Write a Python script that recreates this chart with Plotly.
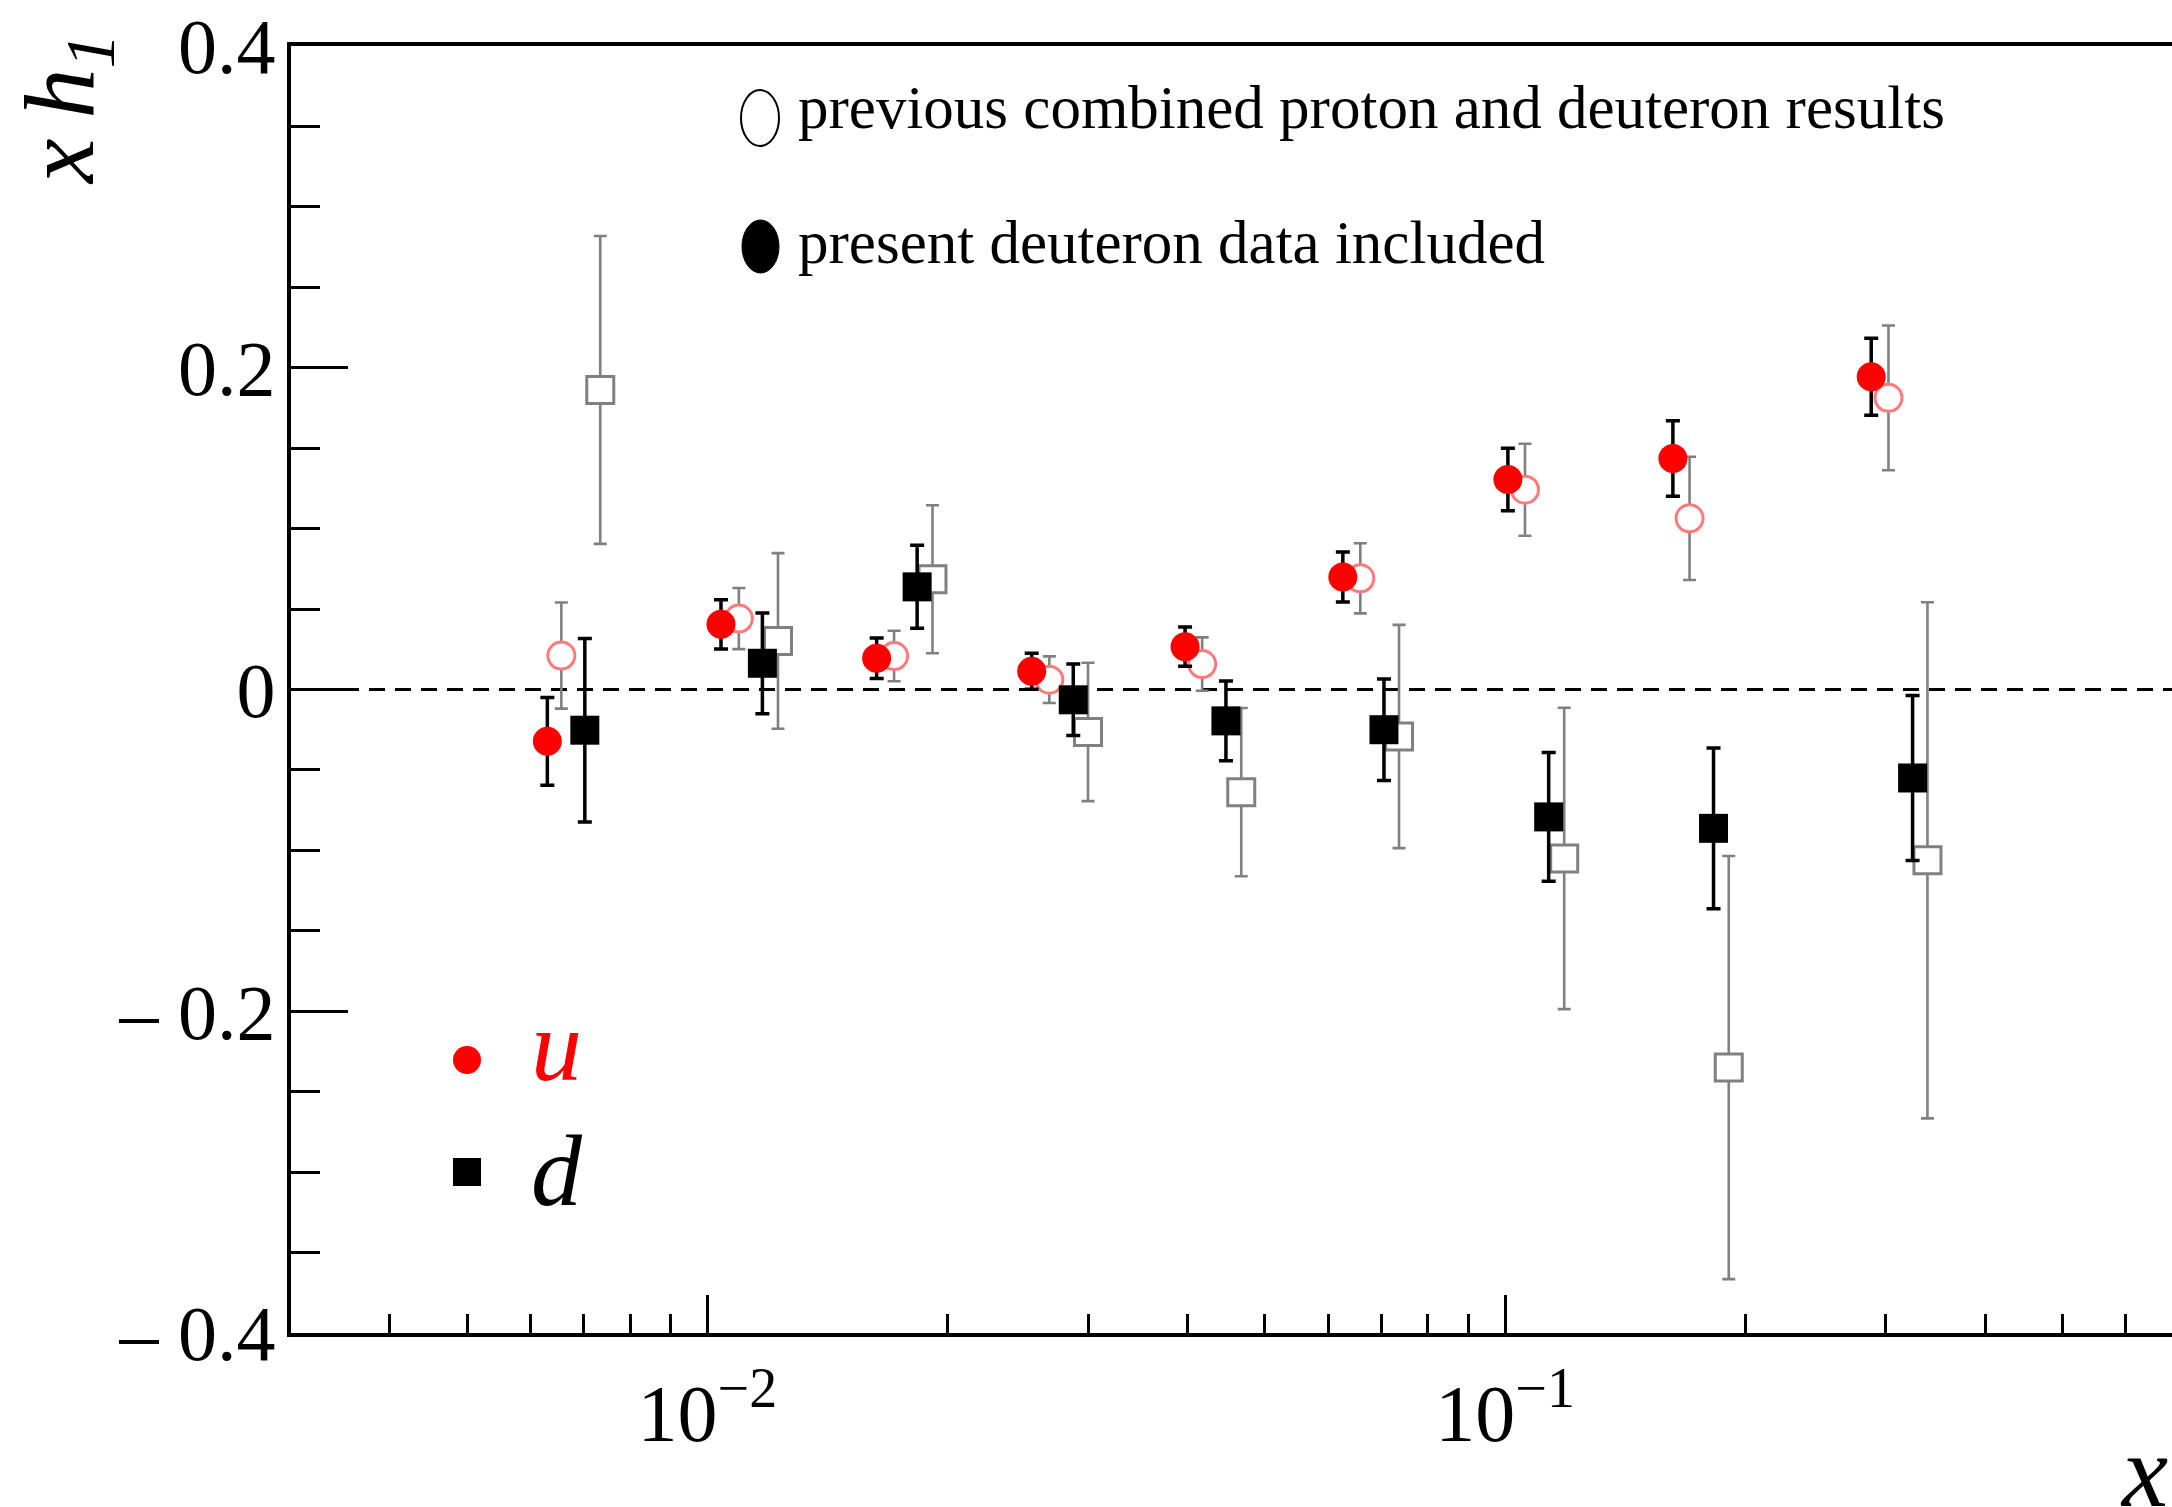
import plotly.graph_objects as go

# ---------------- data ----------------
# u quark, present deuteron data included (red filled circles)
x_u_new = [0.0063, 0.0104, 0.0163, 0.0255, 0.0397, 0.0626, 0.1008, 0.1623, 0.2877]
y_u_new = [-0.0322, 0.0405, 0.0194, 0.0113, 0.0266, 0.0699, 0.1305, 0.1436, 0.1944]
e_u_new = [0.0273, 0.0153, 0.0126, 0.0112, 0.0122, 0.0155, 0.0194, 0.0234, 0.0240]

# u quark, previous combined proton and deuteron results (open circles)
x_u_old = [0.00656, 0.01095, 0.01714, 0.02683, 0.04171, 0.06584, 0.1059, 0.1703, 0.3024]
y_u_old = [0.0211, 0.0441, 0.0208, 0.0061, 0.0158, 0.0691, 0.1242, 0.1064, 0.1813]
e_u_old = [0.0330, 0.0190, 0.0157, 0.0145, 0.0166, 0.0218, 0.0286, 0.0383, 0.0450]

# d quark, present deuteron data included (black filled squares)
x_d_new = [0.00702, 0.01172, 0.01832, 0.02875, 0.04467, 0.07049, 0.1134, 0.1825, 0.3242]
y_d_new = [-0.0253, 0.0163, 0.0638, -0.0064, -0.0195, -0.0250, -0.0792, -0.0863, -0.0550]
e_d_new = [0.0570, 0.0313, 0.0258, 0.0222, 0.0248, 0.0316, 0.0400, 0.0500, 0.0513]

# d quark, previous combined proton and deuteron results (open squares)
x_d_old = [0.00734, 0.01226, 0.01915, 0.03000, 0.04669, 0.07362, 0.1186, 0.1907, 0.3384]
y_d_old = [0.1862, 0.0302, 0.0685, -0.0264, -0.0638, -0.0292, -0.1050, -0.2350, -0.1062]
e_d_old = [0.0957, 0.0546, 0.0460, 0.0430, 0.0523, 0.0694, 0.0937, 0.1315, 0.1604]

# axis ticks
y_tickvals = [-0.4, -0.2, 0.0, 0.2, 0.4]
y_ticktext = ["\u2013 0.4", "\u2013 0.2", "0", "0.2", "0.4"]
x_tickvals = [0.01, 0.1]
x_ticktext = ["10<sup>\u22122</sup>", "10<sup>\u22121</sup>"]
x_minor = [0.004, 0.005, 0.006, 0.007, 0.008, 0.009,
           0.02, 0.03, 0.04, 0.05, 0.06, 0.07, 0.08, 0.09,
           0.2, 0.3, 0.4, 0.5, 0.6]
x_range_log = [-2.522, -0.164]
y_min, y_max = -0.4, 0.4

legend_old = "previous combined proton and deuteron results"
legend_new = "present deuteron data included"

# ---------------- figure geometry ----------------
W, H = 2172, 1507
ML, MR, MT, MB = 291, 0, 46, 174
PW, PH = W - ML - MR, H - MT - MB


def px(p):
    return (p - ML) / PW


def py(p):
    return (H - MB - p) / PH


SERIF = "Liberation Serif, Times New Roman, serif"
GREY = "#808080"
PINK = "#ff7a7a"
RED = "#ff0000"

fig = go.Figure()

# previous results first (drawn underneath)
fig.add_trace(go.Scatter(
    x=x_d_old, y=y_d_old, mode="markers",
    marker=dict(symbol="square", size=27, color="white",
                line=dict(color=GREY, width=3)),
    error_y=dict(type="data", array=e_d_old, color=GREY, thickness=2.6, width=6.5),
    showlegend=False, cliponaxis=False))
fig.add_trace(go.Scatter(
    x=x_u_old, y=y_u_old, mode="markers",
    marker=dict(symbol="circle", size=27, color="white",
                line=dict(color=PINK, width=3)),
    error_y=dict(type="data", array=e_u_old, color=GREY, thickness=2.6, width=6.5),
    showlegend=False, cliponaxis=False))
# present results
fig.add_trace(go.Scatter(
    x=x_d_new, y=y_d_new, mode="markers",
    marker=dict(symbol="square", size=29, color="black", line=dict(width=0)),
    error_y=dict(type="data", array=e_d_new, color="black", thickness=3.5, width=7),
    showlegend=False, cliponaxis=False))
fig.add_trace(go.Scatter(
    x=x_u_new, y=y_u_new, mode="markers",
    marker=dict(symbol="circle", size=29, color=RED, line=dict(width=0)),
    error_y=dict(type="data", array=e_u_new, color="black", thickness=3.5, width=7),
    showlegend=False, cliponaxis=False))

shapes = [
    # dashed zero line
    dict(type="line", xref="paper", x0=0, x1=1, yref="y", y0=0, y1=0,
         line=dict(color="black", width=3, dash="16px,10px"), layer="below"),
    # top legend markers (tall ellipses)
    dict(type="circle", xref="paper", yref="paper",
         x0=px(741), x1=px(779), y0=py(146), y1=py(90),
         line=dict(color="black", width=2), fillcolor="white"),
    dict(type="circle", xref="paper", yref="paper",
         x0=px(742), x1=px(779), y0=py(273), y1=py(220),
         line=dict(color="black", width=1), fillcolor="black"),
    # bottom-left legend markers
    dict(type="circle", xref="paper", yref="paper",
         x0=px(453), x1=px(481), y0=py(1074), y1=py(1046),
         line=dict(color=RED, width=0), fillcolor=RED),
    dict(type="rect", xref="paper", yref="paper",
         x0=px(453), x1=px(481), y0=py(1186), y1=py(1158),
         line=dict(color="black", width=0), fillcolor="black"),
]

annotations = [
    dict(text=legend_old, xref="paper", yref="paper", x=px(796), y=py(108),
         xanchor="left", yanchor="middle", showarrow=False,
         font=dict(family=SERIF, size=61, color="black")),
    dict(text=legend_new, xref="paper", yref="paper", x=px(796), y=py(243),
         xanchor="left", yanchor="middle", showarrow=False,
         font=dict(family=SERIF, size=61, color="black")),
    dict(text="<i>u</i>", xref="paper", yref="paper", x=px(529), y=py(1045),
         xanchor="left", yanchor="middle", showarrow=False,
         font=dict(family=SERIF, size=102, color=RED)),
    dict(text="<i>d</i>", xref="paper", yref="paper", x=px(529), y=py(1170),
         xanchor="left", yanchor="middle", showarrow=False,
         font=dict(family=SERIF, size=102, color="black")),
    # y axis title
    dict(text="<i>x\u2009h<sub>1</sub></i>", xref="paper", yref="paper",
         x=px(66), y=py(110), xanchor="center", yanchor="middle",
         textangle=-90, showarrow=False,
         font=dict(family=SERIF, size=100, color="black")),
    # x axis title (partly cut by the right edge, as in the original)
    dict(text="<i>x</i>", xref="paper", yref="paper",
         x=px(2118), y=py(1470), xanchor="left", yanchor="middle",
         showarrow=False,
         font=dict(family=SERIF, size=104, color="black")),
]

fig.update_layout(
    width=W, height=H,
    margin=dict(l=ML, r=MR, t=MT, b=MB, pad=0),
    paper_bgcolor="white", plot_bgcolor="white",
    showlegend=False,
    shapes=shapes, annotations=annotations,
    font=dict(family=SERIF, color="black"),
    xaxis=dict(
        type="log", range=x_range_log,
        showgrid=False, zeroline=False,
        showline=True, linecolor="black", linewidth=3.5, mirror=True,
        ticks="inside", ticklen=38, tickwidth=3, tickcolor="black",
        tickmode="array", tickvals=x_tickvals, ticktext=x_ticktext,
        tickfont=dict(family=SERIF, size=80, color="black"),
        ticklabelstandoff=8,
        minor=dict(tickmode="array", tickvals=x_minor, ticks="inside",
                   ticklen=19, tickwidth=3, tickcolor="black", showgrid=False),
    ),
    yaxis=dict(
        range=[y_min, y_max],
        showgrid=False, zeroline=False,
        showline=True, linecolor="black", linewidth=4, mirror=False,
        ticks="inside", ticklen=57, tickwidth=3, tickcolor="black",
        tickmode="array", tickvals=y_tickvals, ticktext=y_ticktext,
        tickfont=dict(family=SERIF, size=78, color="black"),
        ticklabelstandoff=-4,
        minor=dict(dtick=0.05, tick0=0, ticks="inside", ticklen=29,
                   tickwidth=3, tickcolor="black", showgrid=False),
    ),
)

fig.write_html(
    "out.html",
    config={"displayModeBar": False},
    post_script="document.body.style.margin='0px';"
                "document.body.style.overflow='hidden';",
)
